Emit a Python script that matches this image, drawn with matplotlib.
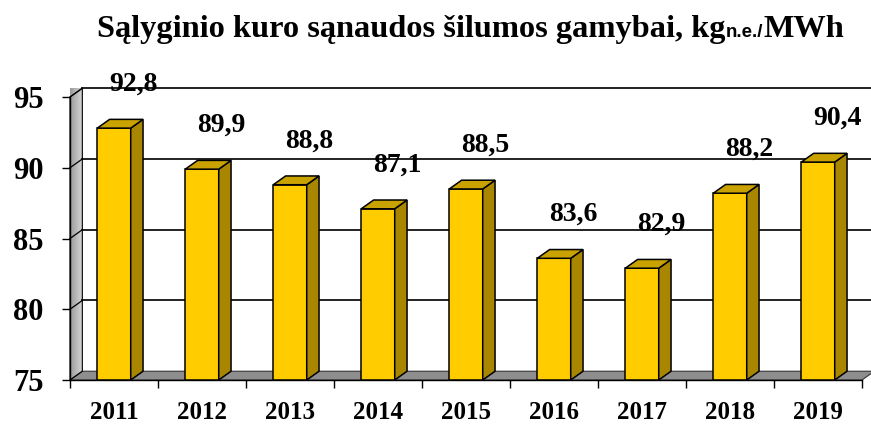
import matplotlib.pyplot as plt
from matplotlib.patches import Polygon
import numpy as np

years = ['2011', '2012', '2013', '2014', '2015', '2016', '2017', '2018', '2019']
values = [92.8, 89.9, 88.8, 87.1, 88.5, 83.6, 82.9, 88.2, 90.4]
y_ticks = [75, 80, 85, 90, 95]

FRONT = '#FFCC00'
SIDE = '#A88600'
TOP = '#C9A200'
SERIF = 'Liberation Serif'

ymin, ymax = 75, 95
dx, dy = 0.14, 0.62   # depth shift of the 3d box in data units
w = 0.38

fig = plt.figure(figsize=(8.71, 4.24), dpi=100)
ax = fig.add_axes([70 / 871, 44 / 424, 792 / 871, 283 / 424])
ax.set_xlim(0, len(years))
ax.set_ylim(ymin, ymax)

# left wall with a grey gradient
wall = Polygon([(0, ymin), (0, ymax), (dx, ymax + dy), (dx, ymin + dy)],
               closed=True, facecolor='none', edgecolor='black', lw=0.8, clip_on=False, zorder=2)
ax.add_patch(wall)
grad = np.linspace(0.6, 0.85, 50).reshape(1, -1)
im = ax.imshow(grad, cmap='gray', vmin=0, vmax=1, aspect='auto',
               extent=[0, dx, ymin, ymax + dy], zorder=1, clip_on=False)
im.set_clip_path(wall)

# floor
floor = Polygon([(0, ymin), (len(years), ymin), (len(years) + dx, ymin + dy), (dx, ymin + dy)],
                closed=True, facecolor='#8E8E8E', edgecolor='#333333', lw=0.8, clip_on=False, zorder=1)
ax.add_patch(floor)

# gridlines on the back wall + their continuation on the left wall
for t in y_ticks[1:]:
    ax.plot([dx, len(years) + 0.3], [t + dy, t + dy], color='#222222', lw=1.4, clip_on=False, zorder=1.5)
    ax.plot([0, dx], [t, t + dy], color='black', lw=0.9, clip_on=False, zorder=2)

# bars
for i, v in enumerate(values):
    x0 = i + 0.5 - w / 2
    x1 = i + 0.5 + w / 2
    front = Polygon([(x0, ymin), (x1, ymin), (x1, v), (x0, v)], closed=True,
                    facecolor=FRONT, edgecolor='black', lw=1.1, zorder=4)
    side = Polygon([(x1, ymin), (x1 + dx, ymin + dy), (x1 + dx, v + dy), (x1, v)], closed=True,
                   facecolor=SIDE, edgecolor='black', lw=1.1, zorder=4)
    top = Polygon([(x0, v), (x1, v), (x1 + dx, v + dy), (x0 + dx, v + dy)], closed=True,
                  facecolor=TOP, edgecolor='black', lw=1.1, zorder=4)
    for p in (front, side, top):
        ax.add_patch(p)
    ax.text(i + 0.5 + 0.22, v + 3.1, str(v).replace('.', ','), ha='center', va='center',
            fontsize=20, fontweight='bold', family=SERIF, zorder=5, clip_on=False)

for s in ['top', 'right']:
    ax.spines[s].set_visible(False)
ax.spines['left'].set_linewidth(1)
ax.spines['bottom'].set_linewidth(1)
ax.spines['left'].set_zorder(3)
ax.spines['bottom'].set_zorder(3)

ax.set_yticks(y_ticks)
ax.set_yticklabels([str(t) for t in y_ticks], fontsize=22, fontweight='bold', family=SERIF)
ax.tick_params(axis='y', length=6, width=1, pad=13)

ax.set_xticks(range(len(years) + 1))
ax.set_xticklabels([])
ax.set_xticks(np.arange(len(years)) + 0.5, minor=True)
ax.set_xticklabels(years, minor=True, fontsize=18, fontweight='bold', family=SERIF)
ax.tick_params(axis='x', which='major', length=6, width=1)
ax.tick_params(axis='x', which='minor', length=0, pad=15)
ax.patch.set_visible(False)

# title made of pieces with different fonts
renderer = fig.canvas.get_renderer()
pieces = [('Sąlyginio kuro sąnaudos šilumos gamybai, kg', SERIF, 23.3),
          ('n.e./', 'Liberation Sans', 13.5),
          ('MWh', SERIF, 23.3)]
xpos = 97 / 871
for txt, fam, size in pieces:
    t = fig.text(xpos, 1 - 37 / 424, txt, fontsize=size, fontweight='bold', family=fam,
                 ha='left', va='baseline')
    bb = t.get_window_extent(renderer)
    xpos = bb.x1 / fig.bbox.width

fig.savefig('out.png', dpi=100)
